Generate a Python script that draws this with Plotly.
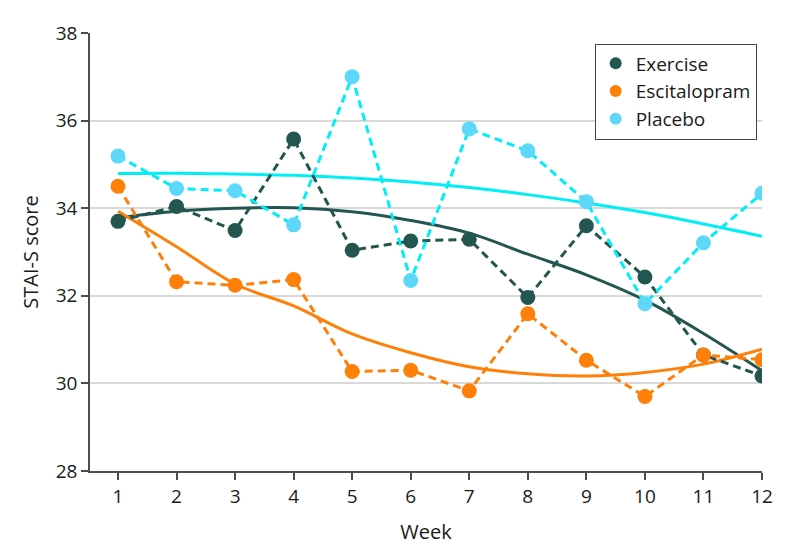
import plotly.graph_objects as go

weeks = [1, 2, 3, 4, 5, 6, 7, 8, 9, 10, 11, 12]

exercise = [33.70, 34.04, 33.49, 35.58, 33.04, 33.25, 33.29, 31.96, 33.60, 32.43, 30.65, 30.17]
escitalopram = [34.50, 32.32, 32.24, 32.37, 30.27, 30.30, 29.83, 31.59, 30.53, 29.70, 30.65, 30.54]
placebo = [35.19, 34.45, 34.40, 33.62, 37.00, 32.35, 35.81, 35.31, 34.15, 31.82, 33.21, 34.34]

# trend (fitted) curves, read at each week
exercise_trend = [33.78, 33.93, 34.00, 34.01, 33.92, 33.72, 33.43, 32.95, 32.48, 31.90, 31.14, 30.29]
escitalopram_trend = [33.93, 33.12, 32.27, 31.77, 31.13, 30.70, 30.38, 30.22, 30.17, 30.25, 30.44, 30.78]
placebo_trend = [34.79, 34.80, 34.78, 34.75, 34.69, 34.60, 34.47, 34.31, 34.12, 33.90, 33.64, 33.36]

names = ["Exercise", "Escitalopram", "Placebo"]
y_ticks = [28, 30, 32, 34, 36, 38]

marker_colors = ["#245650", "#ff8008", "#5dd8f8"]
line_colors = ["#245650", "#ff8008", "#00eef6"]

series = [exercise, escitalopram, placebo]
trends = [exercise_trend, escitalopram_trend, placebo_trend]

FONT = "Open Sans"

fig = go.Figure()

# trend curves
for tr, lc in zip(trends, line_colors):
    fig.add_trace(go.Scatter(
        x=weeks, y=tr, mode="lines", line=dict(color=lc, width=3, shape="spline", smoothing=1.0),
        showlegend=False, hoverinfo="skip"))

# dashed observed lines
for s, lc in zip(series, line_colors):
    fig.add_trace(go.Scatter(
        x=weeks, y=s, mode="lines", line=dict(color=lc, width=3, dash="8px,5px"),
        showlegend=False, hoverinfo="skip"))

# markers (with legend)
for s, n, mc in zip(series, names, marker_colors):
    fig.add_trace(go.Scatter(
        x=weeks, y=s, mode="markers", name=n,
        marker=dict(color=mc, size=15, line=dict(width=0))))

# the page body has an 8px margin: figure is sized to fill the remaining viewport
fig.update_layout(
    width=786, height=548,
    margin=dict(l=82, r=32, t=21, b=85),
    paper_bgcolor="white", plot_bgcolor="white",
    font=dict(family=FONT, size=19, color="#1a1a1a"),
    showlegend=True,
    legend=dict(
        x=0.751, y=0.976, xanchor="left", yanchor="top",
        bordercolor="#444444", borderwidth=1, bgcolor="white",
        font=dict(family=FONT, size=19, color="#1a1a1a"),
        itemsizing="constant", tracegroupgap=0,
    ),
    xaxis=dict(
        range=[0.522, 12.0], tickmode="array", tickvals=weeks,
        ticktext=[str(w) for w in weeks],
        showgrid=False, zeroline=False,
        showline=True, linecolor="#4d4d4d", linewidth=1.5,
        ticks="outside", ticklen=7, tickwidth=1.5, tickcolor="#4d4d4d",
        title=dict(text="Week", standoff=17, font=dict(size=20)),
        tickfont=dict(size=19),
    ),
    yaxis=dict(
        range=[28, 38], tickmode="array", tickvals=y_ticks,
        ticktext=[str(v) for v in y_ticks],
        showgrid=True, gridcolor="#d9d9d9", gridwidth=1.5, zeroline=False,
        showline=True, linecolor="#4d4d4d", linewidth=1.5,
        ticks="outside", ticklen=7, tickwidth=1.5, tickcolor="#4d4d4d",
        title=dict(text="STAI-S score", standoff=12, font=dict(size=20)),
        tickfont=dict(size=19),
    ),
)

fig.write_html("out.html")
